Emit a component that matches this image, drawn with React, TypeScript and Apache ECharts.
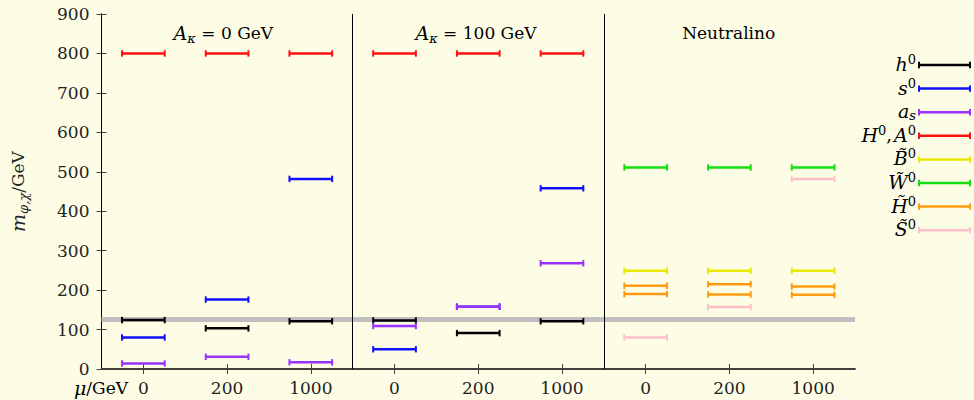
import React, { useEffect, useRef } from "react";
import * as echarts from "echarts";

// ---- data ----
const muLabels = ["0", "200", "1000"];
const panelTitles = ["{it|A}{sub|κ}{n| = 0 GeV}", "{it|A}{sub|κ}{n| = 100 GeV}", "{n|Neutralino}"];

// Higgs sector, panel A_kappa = 0 and A_kappa = 100 (mu = 0, 200, 1000)
const h0_A0 = [124, 103, 121];
const h0_A100 = [123, 91, 121];
const s0_A0 = [80, 176, 482];
const s0_A100 = [50, 158, 458];
const as_A0 = [14, 31, 17];
const as_A100 = [109, 158, 268];
const HA_A0 = [800, 800, 800];
const HA_A100 = [800, 800, 800];
// Neutralino panel (mu = 0, 200, 1000)
const bino = [249, 249, 249];
const wino = [511, 511, 511];
const higgsinoA = [211, 215, 209];
const higgsinoB = [190, 189, 188];
const singlino = [80, 157, 482];

const higgsLine = 125;

const seriesNames = ["h0", "s0", "as", "HA", "B", "W", "H", "S"];
const seriesLabels = [
  "{li|h}{ls|0}",
  "{li|s}{ls|0}",
  "{li|a}{lb|s}",
  "{li|H}{ls|0}{ln|,}{li|A}{ls|0}",
  "{li|B̃}{ls|0}",
  "{li|W̃}{ls|0}",
  "{li|H̃}{ls|0}",
  "{li|S̃}{ls|0}",
];
const colors = ["#000000", "#1010ff", "#9b30ff", "#ff1010", "#e8e800", "#10e010", "#ff9a10", "#ffc0cb"];

const FONT = "DejaVu Serif";
const HALF = 0.51;
const xPos = (panel: number, m: number) => panel * 6 + 1 + 2 * m;

function pts(panel: number, vals: number[]) {
  return vals.map((v, m) => [xPos(panel, m), v]);
}

const seriesData: number[][][] = [
  [...pts(0, h0_A0), ...pts(1, h0_A100)],
  [...pts(0, s0_A0), ...pts(1, s0_A100)],
  [...pts(0, as_A0), ...pts(1, as_A100)],
  [...pts(0, HA_A0), ...pts(1, HA_A100)],
  pts(2, bino),
  pts(2, wino),
  [...pts(2, higgsinoA), ...pts(2, higgsinoB)],
  pts(2, singlino),
];

function makeRender(color: string) {
  return (params: any, api: any) => {
    const x = api.value(0);
    const y = api.value(1);
    const p1 = api.coord([x - HALF, y]);
    const p2 = api.coord([x + HALF, y]);
    const cap = 3.2;
    return {
      type: "group",
      children: [
        { type: "line", shape: { x1: p1[0], y1: p1[1], x2: p2[0], y2: p2[1] }, style: { stroke: color, lineWidth: 2.5 } },
        { type: "line", shape: { x1: p1[0], y1: p1[1] - cap, x2: p1[0], y2: p1[1] + cap }, style: { stroke: color, lineWidth: 2 } },
        { type: "line", shape: { x1: p2[0], y1: p2[1] - cap, x2: p2[0], y2: p2[1] + cap }, style: { stroke: color, lineWidth: 2 } },
      ],
    };
  };
}

const richBase = {
  it: { fontFamily: FONT, fontStyle: "italic", fontSize: 19, color: "#222", lineHeight: 24 },
  n: { fontFamily: FONT, fontSize: 17, color: "#222", lineHeight: 24 },
  sup: { fontFamily: FONT, fontSize: 13, color: "#222", verticalAlign: "top", lineHeight: 14 },
  sub: { fontFamily: FONT, fontStyle: "italic", fontSize: 13, color: "#222", verticalAlign: "bottom", lineHeight: 14 },
  li: { fontFamily: FONT, fontStyle: "italic", fontSize: 19, color: "#222", lineHeight: 22 },
  ln: { fontFamily: FONT, fontSize: 18, color: "#222", lineHeight: 22, padding: [0, 2, 0, 0] },
  ls: { fontFamily: FONT, fontSize: 13, color: "#222", verticalAlign: "top", lineHeight: 13 },
  lb: { fontFamily: FONT, fontStyle: "italic", fontSize: 13, color: "#222", verticalAlign: "bottom", lineHeight: 13 },
};

export default function App() {
  const ref = useRef<HTMLDivElement>(null);
  useEffect(() => {
    if (!ref.current) return;
    document.body.style.margin = "0";
    const chart = echarts.init(ref.current, null, { renderer: "svg" });
    const tickVals = [0, 1, 2].flatMap((p) => [0, 1, 2].map((m) => xPos(p, m)));
    const gridLeft = 97, gridRight = 855, gridTop = 14;
    const panelW = (gridRight - gridLeft) / 3;

    const legendGraphics: any[] = [];
    seriesLabels.forEach((lab, i) => {
      const y = 65 + i * 23.6;
      legendGraphics.push({
        type: "text",
        x: 916,
        y: y - 1,
        style: { text: lab, rich: richBase, align: "right", verticalAlign: "middle" },
      });
      legendGraphics.push({ type: "line", shape: { x1: 919, y1: y, x2: 970, y2: y }, style: { stroke: colors[i], lineWidth: 2.5 } });
      legendGraphics.push({ type: "line", shape: { x1: 919, y1: y - 3.2, x2: 919, y2: y + 3.2 }, style: { stroke: colors[i], lineWidth: 2 } });
      legendGraphics.push({ type: "line", shape: { x1: 970, y1: y - 3.2, x2: 970, y2: y + 3.2 }, style: { stroke: colors[i], lineWidth: 2 } });
    });

    const titleGraphics = panelTitles.map((t, p) => ({
      type: "text",
      x: gridLeft + panelW * (p + 0.5),
      y: 33,
      style: { text: t, rich: richBase, align: "center", verticalAlign: "middle" },
    }));

    const axisLabelStyle = { fontFamily: FONT, fontSize: 17, color: "#222" };

    chart.setOption({
      animation: false,
      backgroundColor: "#fdfde6",
      grid: { left: gridLeft, right: 974 - gridRight, top: gridTop, bottom: 31, containLabel: false },
      xAxis: [
        {
          type: "value",
          min: 0,
          max: 18,
          position: "bottom",
          splitLine: { show: false },
          axisLine: { lineStyle: { color: "#333", width: 1.5 } },
          axisTick: { inside: true, length: 5, customValues: tickVals, lineStyle: { color: "#444" } },
          axisLabel: {
            customValues: tickVals,
            formatter: (v: number) => muLabels[Math.round((v - 1) / 2) % 3],
            margin: 10,
            ...axisLabelStyle,
          },
        },
        {
          type: "value",
          min: 0,
          max: 18,
          position: "top",
          splitLine: { show: false },
          axisLine: { lineStyle: { color: "#333", width: 1.5 } },
          axisTick: { inside: true, length: 5, customValues: tickVals, lineStyle: { color: "#444" } },
          axisLabel: { show: false },
        },
      ],
      yAxis: [
        {
          type: "value",
          min: 0,
          max: 900,
          interval: 100,
          position: "left",
          splitLine: { show: false },
          axisLine: { show: true, lineStyle: { color: "#000", width: 1 } },
          axisTick: { show: true, inside: true, length: 5, lineStyle: { color: "#444" } },
          axisLabel: { margin: 12, ...axisLabelStyle },
          name: "{it|m}{sub|φ,χ}{n|/GeV}",
          nameLocation: "middle",
          nameGap: 72,
          nameRotate: 90,
          nameTextStyle: { rich: richBase },
        },
        {
          type: "value",
          min: 0,
          max: 900,
          interval: 100,
          position: "right",
          splitLine: { show: false },
          axisLine: { show: true, lineStyle: { color: "#000", width: 1 } },
          axisTick: { show: true, inside: true, length: 5, lineStyle: { color: "#444" } },
          axisLabel: { show: false },
        },
      ],
      graphic: [
        ...titleGraphics,
        ...legendGraphics,
        {
          type: "text",
          x: 128,
          y: 388,
          style: { text: "{it|μ}{n|/GeV}", rich: richBase, align: "right", verticalAlign: "middle" },
        },
      ],
      series: [
        {
          type: "line",
          data: [],
          z: 1,
          markLine: {
            silent: true,
            symbol: "none",
            z: 1,
            label: { show: false },
            data: [
              { yAxis: higgsLine, lineStyle: { color: "#bfbfbf", width: 5, type: "solid" } },
              { xAxis: 6, lineStyle: { color: "#000", width: 1, type: "solid" } },
              { xAxis: 12, lineStyle: { color: "#000", width: 1, type: "solid" } },
            ],
          },
        },
        ...seriesNames.map((name, i) => ({
          type: "custom",
          name,
          z: 10,
          data: seriesData[i],
          renderItem: makeRender(colors[i]),
        })),
      ],
    });
    return () => chart.dispose();
  }, []);
  return <div ref={ref} style={{ width: 974, height: 400 }} />;
}
